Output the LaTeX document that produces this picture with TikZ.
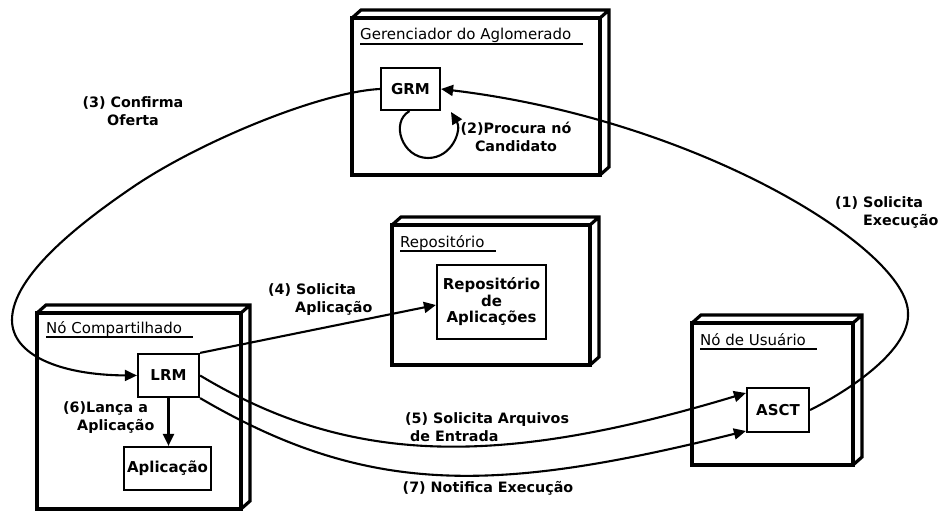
\documentclass[tikz,border=0pt]{standalone}
\usepackage{fontspec}
\setmainfont{DejaVu Sans}
\usetikzlibrary{arrows.meta,calc}
\begin{document}
\begin{tikzpicture}[x=1pt,y=-1pt,
  face/.style={draw,line width=3.2pt,inner sep=0pt,outer sep=0pt,anchor=north west},
  depth/.style={line width=3.2pt,line join=miter},
  ttl/.style={font=\fontsize{15}{18}\selectfont,inner sep=0pt,anchor=base west},
  uline/.style={line width=1.3pt},
  box/.style={draw,line width=2.2pt,inner sep=0pt,align=center,font=\fontsize{15}{16.5}\selectfont\bfseries},
  lbl/.style={inner sep=0pt,font=\fontsize{14.3}{18}\selectfont\bfseries},
  arr/.style={line width=2.1pt,-{Triangle[length=12pt,width=11pt]}}]
\useasboundingbox (0,0) rectangle (943,511);
% 3D node frames
\node[face,minimum width=248pt,minimum height=157pt] (ger) at (352,18) {};
\node[face,minimum width=204pt,minimum height=196pt] (comp) at (37,313) {};
\node[face,minimum width=198pt,minimum height=140pt] (repo) at (392,225) {};
\node[face,minimum width=161pt,minimum height=142pt] (usr) at (692,323) {};
\foreach \n in {ger,comp,repo,usr}{
  \draw[depth] (\n.north west) -- ++(9,-8) -- ($(\n.north east)+(9,-8)$) -- ($(\n.south east)+(9,-8)$) -- (\n.south east)
               (\n.north east) -- ++(9,-8);
}
% titles
\node[ttl] (gert) at ($(ger.north west)+(8,22)$) {Gerenciador do Aglomerado};
\node[ttl] (compt) at ($(comp.north west)+(9,20)$) {Nó Compartilhado};
\node[ttl] (repot) at ($(repo.north west)+(8,22)$) {Repositório};
\node[ttl] (usrt) at ($(usr.north west)+(8,22)$) {Nó de Usuário};
\foreach \t in {gert,compt,repot,usrt}{
  \draw[uline] ($(\t.base west)+(0,4)$) -- ($(\t.base east)+(11,4)$);
}
% inner boxes
\node[box,minimum width=59pt,minimum height=42pt] (grm) at (410.5,89) {GRM};
\node[box,minimum width=61pt,minimum height=43pt] (lrm) at (168.5,375.5) {LRM};
\node[box,minimum width=87pt,minimum height=43pt] (app) at (167.5,468.5) {Aplicação};
\node[box,minimum width=109pt,minimum height=74pt] (repoin) at (491.5,302) {Repositório\\de\\Aplicações};
\node[box,minimum width=62pt,minimum height=44pt] (asct) at (778,410) {ASCT};
% connectors
\coordinate (p1a) at (908,313);
\draw[arr] (asct.east) .. controls (850,390) and (910,350) .. (p1a) .. controls (908,250) and (700,120) .. (grm.east);
\coordinate (loopmid) at (428,158);
\coordinate (loopend) at (451,112);
\draw[arr] ($(grm.south)+(-1,0)$) .. controls (390,122) and (402,158) .. (loopmid) .. controls (452,158) and (462,130) .. (loopend);
\coordinate (p3a) at (133,187);
\coordinate (p3b) at (12,320);
\draw[arr] (grm.west) .. controls (320,92) and (199,142) .. (p3a) .. controls (83,221) and (12,275) .. (p3b) .. controls (12,355) and (60,375) .. (lrm.west);
\draw[arr] (lrm.north east) -- ($(repoin.west)+(0,3)$);
\draw[arr] (lrm.east) .. controls (349,465) and (497,468) .. ($(asct.west)+(0,-17)$);
\draw[arr] (lrm.south east) .. controls (369,497) and (496,493) .. ($(asct.west)+(0,21)$);
\draw[arr] (lrm.south) -- (lrm.south |- app.north);
% labels
\node[lbl,anchor=west,align=left] (l1) at (835,212) {(1) Solicita\\\hspace*{28pt}Execução};
\node[lbl,align=center] (l2) at (516,136.5) {(2)Procura nó\\Candidato};
\node[lbl,align=center] (l3) at (133,111.5) {(3) Confirma\\Oferta};
\node[lbl,anchor=west,align=left] (l4) at (268,299.5) {(4) Solicita\\\hspace*{27pt}Aplicação};
\node[lbl,anchor=west,align=left] (l5) at (405,427.5) {(5) Solicita Arquivos\\\hspace*{5pt}de Entrada};
\node[lbl,anchor=west,align=left] (l6) at (63,417.5) {(6)Lança a\\\hspace*{14pt}Aplicação};
\node[lbl] (l7) at (488,488) {(7) Notifica Execução};
\end{tikzpicture}
\end{document}
